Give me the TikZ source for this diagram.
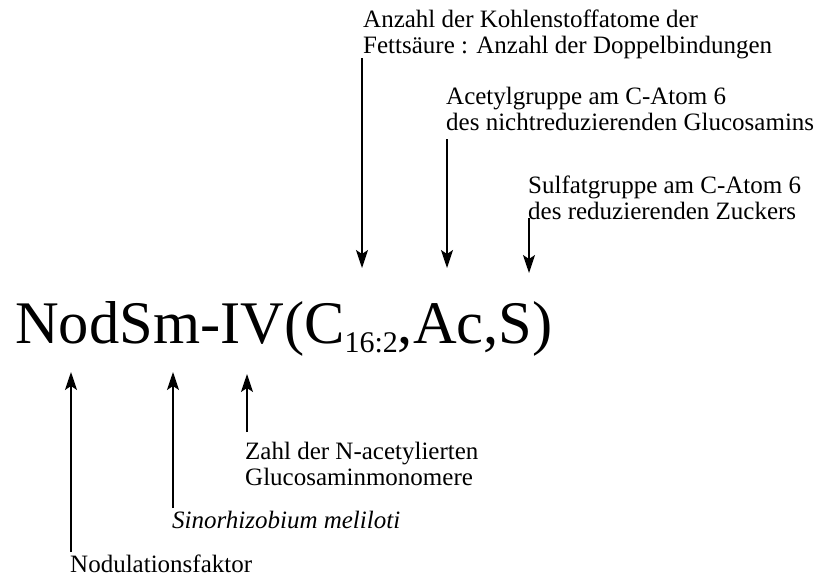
\documentclass[tikz,border=0pt]{standalone}
\usepackage{fontspec}
\setmainfont{Liberation Serif}
\usetikzlibrary{arrows.meta}
\begin{document}
\begin{tikzpicture}[x=1pt,y=-1pt,
  lbl/.style={anchor=base west,inner sep=0pt,font=\fontsize{25}{26}\selectfont,align=left},
  arr/.style={line width=1.4pt,-{Stealth[length=18pt,width=12pt,inset=4pt]}}]
\useasboundingbox (0,0) rectangle (818,576);
\node[anchor=base west,inner sep=0pt,font=\fontsize{60.5}{60}\selectfont] (f) at (15,343)
  {NodSm-IV(C\raisebox{-9pt}{\fontsize{30}{30}\selectfont 16:2},Ac,S)};
% labels (anchor = baseline of the last line)
\node[lbl] (anz) at (363,53) {Anzahl der Kohlenstoffatome der\\Fettsäure : Anzahl der Doppelbindungen};
\node[lbl] (ace) at (446,130) {Acetylgruppe am C-Atom 6\\des nichtreduzierenden Glucosamins};
\node[lbl] (sul) at (528,219) {Sulfatgruppe am C-Atom 6\\des reduzierenden Zuckers};
\node[lbl] (zahl) at (245,485) {Zahl der N-acetylierten\\Glucosaminmonomere};
\node[lbl,font=\fontsize{25}{26}\selectfont\itshape] (sino) at (172,528) {Sinorhizobium meliloti};
\node[lbl] (nod) at (70,572) {Nodulationsfaktor};
% arrow end points
\coordinate (a1s) at (362,58);  \coordinate (a1e) at (362,268);
\coordinate (a2s) at (447,139); \coordinate (a2e) at (447,268);
\coordinate (a3s) at (529,218); \coordinate (a3e) at (529,273);
\coordinate (b1s) at (71,552);  \coordinate (b1e) at (71,372);
\coordinate (b2s) at (173,508); \coordinate (b2e) at (173,372);
\coordinate (b3s) at (247,432); \coordinate (b3e) at (247,374);
\draw[arr] (a1s) -- (a1e);
\draw[arr] (a2s) -- (a2e);
\draw[arr] (a3s) -- (a3e);
\draw[arr] (b1s) -- (b1e);
\draw[arr] (b2s) -- (b2e);
\draw[arr] (b3s) -- (b3e);
\end{tikzpicture}
\end{document}
